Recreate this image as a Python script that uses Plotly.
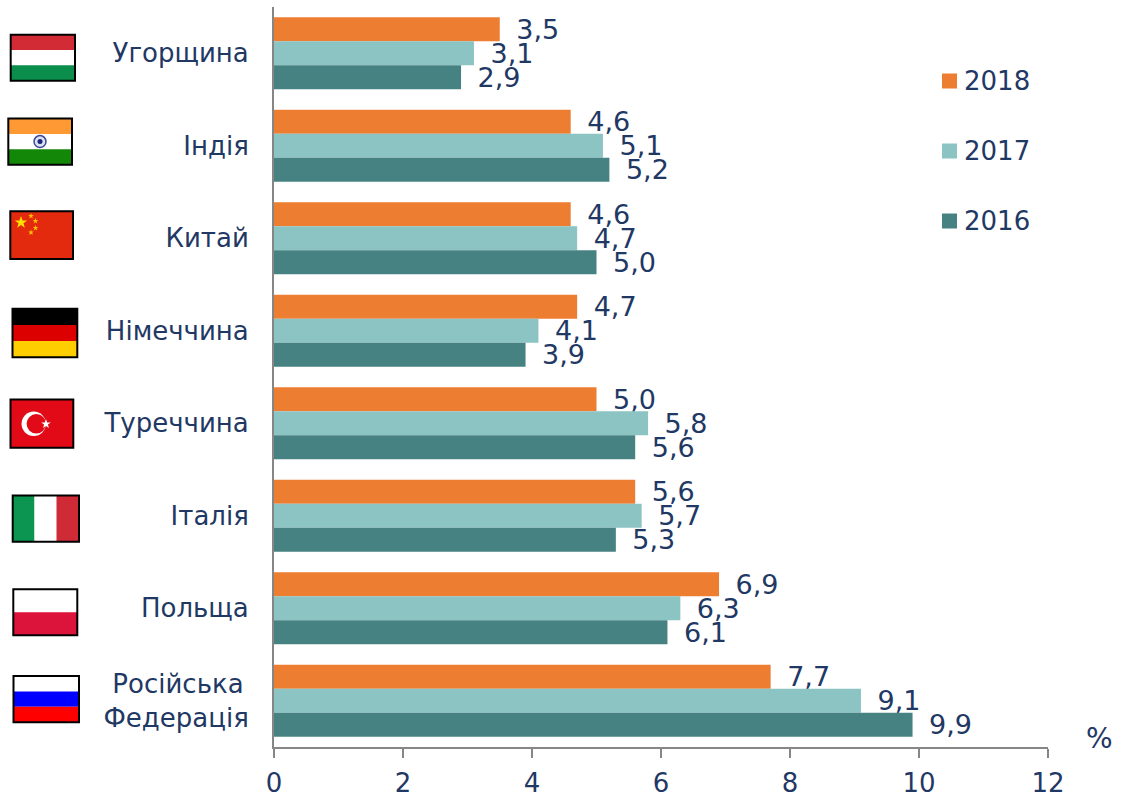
import math
import plotly.graph_objects as go

countries = ["Угорщина", "Індія", "Китай", "Німеччина", "Туреччина", "Італія", "Польща",
             "Російська\u2009<br>Федерація"]
years = ["2018", "2017", "2016"]
values_2018 = [3.5, 4.6, 4.6, 4.7, 5.0, 5.6, 6.9, 7.7]
values_2017 = [3.1, 5.1, 4.7, 4.1, 5.8, 5.7, 6.3, 9.1]
values_2016 = [2.9, 5.2, 5.0, 3.9, 5.6, 5.3, 6.1, 9.9]
x_ticks = [0, 2, 4, 6, 8, 10, 12]

colors = ["#ED7D31", "#8CC3C3", "#478282"]
TEXT = "#1F3864"
AXIS = "#868686"
FONT = "DejaVu Sans"
SIZE = 26

# plot area in page pixels, flags and legend are placed from these
LEFT, RIGHT, TOP, BOTTOM = 274, 1048, 7, 747
W, H = 1121, 804


def px(x):
    return (x - LEFT) / (RIGHT - LEFT)


def py(y):
    return (BOTTOM - y) / (BOTTOM - TOP)


def rect(x0, y0, x1, y1, fill, line=None, width=0):
    return dict(type="rect", xref="paper", yref="paper", x0=px(x0), x1=px(x1), y0=py(y0), y1=py(y1),
                fillcolor=fill, line=dict(color=line or fill, width=width), layer="above")


def circle(cx, cy, r, fill, line=None, width=0):
    return dict(type="circle", xref="paper", yref="paper", x0=px(cx - r), x1=px(cx + r),
                y0=py(cy - r), y1=py(cy + r), fillcolor=fill,
                line=dict(color=line or fill, width=width), layer="above")


def star(cx, cy, r, fill):
    pts = []
    for i in range(10):
        rad = r if i % 2 == 0 else r * 0.4
        a = math.radians(-90 + 36 * i)
        pts.append(f"{px(cx + rad * math.cos(a))},{py(cy + rad * math.sin(a))}")
    path = "M" + " L".join(pts) + " Z"
    return dict(type="path", xref="paper", yref="paper", path=path, fillcolor=fill,
                line=dict(width=0), layer="above")


def h_flag(x0, y0, x1, y1, stripes):
    out = []
    step = (y1 - y0) / len(stripes)
    for i, c in enumerate(stripes):
        out.append(rect(x0, y0 + i * step, x1, y0 + (i + 1) * step, c))
    return out


def border(x0, y0, x1, y1):
    return rect(x0, y0, x1, y1, "rgba(0,0,0,0)", "#000000", 2)


shapes = []

# Hungary
shapes += h_flag(10.7, 34.7, 75, 80.7, ["#D22B36", "#FFFFFF", "#0B8E4B"])
shapes.append(border(10.7, 34.7, 75, 80.7))
# India
shapes += h_flag(8.3, 118.5, 72, 164.7, ["#FF9933", "#FFFFFF", "#138808"])
shapes.append(circle(40, 141.6, 6, "#DDE0F0", "#3A4A96", 1.5))
shapes.append(circle(40, 141.6, 2.5, "#1A237E"))
shapes.append(border(8.3, 118.5, 72, 164.7))
# China
shapes.append(rect(10.3, 211.3, 73, 259, "#E32A0E"))
shapes.append(star(21, 222.5, 6.5, "#FFDE00"))
for sx, sy in [(31, 216), (35.5, 221), (35.5, 228), (31, 232.5)]:
    shapes.append(star(sx, sy, 3, "#FFC000"))
shapes.append(border(10.3, 211.3, 73, 259))
# Germany
shapes += h_flag(12.5, 308.7, 77.3, 357.3, ["#000000", "#DD0000", "#FFCE00"])
shapes.append(border(12.5, 308.7, 77.3, 357.3))
# Turkey
shapes.append(rect(10.5, 399.5, 73.3, 447.7, "#E30A17"))
shapes.append(circle(33.7, 423.8, 12.2, "#FFFFFF"))
shapes.append(circle(36.3, 423.8, 9.7, "#E30A17"))
shapes.append(star(46, 424, 5, "#FFFFFF"))
shapes.append(border(10.5, 399.5, 73.3, 447.7))
# Italy
shapes.append(rect(12.7, 495.5, 34.5, 541.7, "#0B9550"))
shapes.append(rect(34.5, 495.5, 56.5, 541.7, "#FFFFFF"))
shapes.append(rect(56.5, 495.5, 79, 541.7, "#CE2B37"))
shapes.append(border(12.7, 495.5, 79, 541.7))
# Poland
shapes += h_flag(13.3, 589.3, 77.3, 635.3, ["#FFFFFF", "#DC143C"])
shapes.append(border(13.3, 589.3, 77.3, 635.3))
# Russia
shapes += h_flag(13.5, 676, 79, 722.3, ["#FFFFFF", "#0000FF", "#FF0000"])
shapes.append(border(13.5, 676, 79, 722.3))

# legend drawn by hand, the swatch sits closer to the text than plotly's legend allows
annotations = []
for year, color, cy in zip(years, colors, [81, 151, 221]):
    shapes.append(rect(942, cy - 7.5, 957, cy + 7.5, color))
    annotations.append(dict(text=year, xref="paper", yref="paper", x=px(962), y=py(cy), xanchor="left",
                            yanchor="middle", showarrow=False, font=dict(family=FONT, size=SIZE, color=TEXT)))

annotations.append(dict(text="%", xref="paper", yref="paper", x=px(1099), y=py(738), xanchor="center",
                        yanchor="middle", showarrow=False, font=dict(family=FONT, size=28, color=TEXT)))

fig = go.Figure()
for year, vals, color in zip(years, [values_2018, values_2017, values_2016], colors):
    fig.add_trace(go.Bar(
        y=countries, x=vals, name=year, orientation="h", marker=dict(color=color, line=dict(width=0)),
        text=["\u2002" + f"{v:.1f}".replace(".", ",") for v in vals],
        textposition="outside", textangle=0, constraintext="none", cliponaxis=False,
        textfont=dict(family=FONT, size=27, color=TEXT),
    ))

fig.update_layout(
    width=W, height=H,
    margin=dict(l=LEFT, r=W - RIGHT, t=TOP, b=H - BOTTOM, autoexpand=False),
    paper_bgcolor="white", plot_bgcolor="white",
    barmode="group", bargap=0.22, bargroupgap=0,
    showlegend=False,
    font=dict(family=FONT, size=SIZE, color=TEXT),
    shapes=shapes, annotations=annotations,
)
fig.update_xaxes(range=[0, 12], tickvals=x_ticks, ticks="outside", ticklen=9, tickwidth=2, tickcolor=AXIS,
                 showline=True, linecolor=AXIS, linewidth=2, showgrid=False, zeroline=False,
                 ticklabelstandoff=3, tickfont=dict(family=FONT, size=SIZE, color=TEXT))
fig.update_yaxes(autorange="reversed", ticks="", showline=True, linecolor=AXIS, linewidth=2, showgrid=False,
                 ticklabelstandoff=18, tickfont=dict(family=FONT, size=SIZE, color=TEXT))

# page body has a default margin that would push everything 8px
fig.write_html("out.html", config=dict(displayModeBar=False),
               post_script="document.body.style.margin='0';")
